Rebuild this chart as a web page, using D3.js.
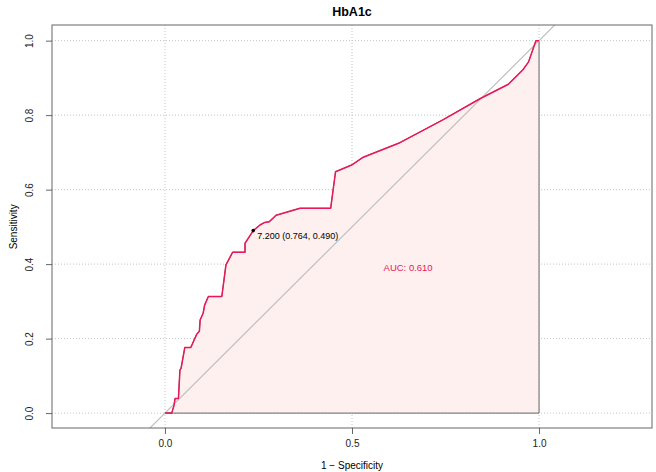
<!DOCTYPE html>
<html>
<head>
<meta charset="utf-8">
<script src="https://cdn.jsdelivr.net/npm/d3@7"></script>
<style>
  body { margin: 0; background: #fff; }
  svg { font-family: "Liberation Sans", Arial, sans-serif; }
</style>
</head>
<body>
<div id="chart"></div>
<script>
// ROC curve (1 - specificity, sensitivity)
var fpr  = [0, 0.018, 0.024, 0.027, 0.036, 0.040, 0.043, 0.053, 0.069, 0.085, 0.092, 0.094, 0.102, 0.106, 0.116, 0.152, 0.163, 0.181, 0.214, 0.214, 0.236, 0.254, 0.267, 0.279, 0.297, 0.361, 0.443, 0.456, 0.499, 0.530, 0.628, 0.744, 0.842, 0.918, 0.957, 0.972, 0.990, 0.992, 1.0];
var sens = [0, 0, 0.020, 0.039, 0.039, 0.116, 0.120, 0.176, 0.176, 0.212, 0.220, 0.250, 0.268, 0.290, 0.313, 0.313, 0.398, 0.432, 0.432, 0.456, 0.490, 0.505, 0.512, 0.514, 0.531, 0.550, 0.550, 0.648, 0.666, 0.687, 0.726, 0.788, 0.844, 0.883, 0.922, 0.943, 0.995, 1.0, 1.0];
var xTicks = [0, 0.5, 1];
var yTicks = [0, 0.2, 0.4, 0.6, 0.8, 1.0];
var best = { thr: 7.200, spec: 0.764, sens: 0.490 };
var aucValue = 0.610;

var W = 656, H = 472;
var margin = { top: 25, right: 4, bottom: 44, left: 52 };
var pw = W - margin.left - margin.right,
    ph = H - margin.top - margin.bottom;

var svg = d3.select("#chart").append("svg")
  .attr("width", W).attr("height", H);

var x = d3.scaleLinear().domain([-0.302, 1.302]).range([margin.left, margin.left + pw]);
var y = d3.scaleLinear().domain([-0.04, 1.042]).range([margin.top + ph, margin.top]);

svg.append("clipPath").attr("id", "clip")
  .append("rect")
  .attr("x", margin.left).attr("y", margin.top)
  .attr("width", pw).attr("height", ph);

var plot = svg.append("g").attr("clip-path", "url(#clip)");

// grid
plot.selectAll(".vgrid").data(xTicks).enter().append("line")
  .attr("x1", function(d) { return x(d); }).attr("x2", function(d) { return x(d); })
  .attr("y1", margin.top).attr("y2", margin.top + ph)
  .attr("stroke", "#c4c4c4").attr("stroke-dasharray", "1,2");
plot.selectAll(".hgrid").data(yTicks).enter().append("line")
  .attr("y1", function(d) { return y(d); }).attr("y2", function(d) { return y(d); })
  .attr("x1", margin.left).attr("x2", margin.left + pw)
  .attr("stroke", "#c4c4c4").attr("stroke-dasharray", "1,2");

// auc polygon
var pts = fpr.map(function(d, i) { return [d, sens[i]]; });
var poly = pts.concat([[1, 0]]);
plot.append("path")
  .attr("d", d3.line().x(function(d) { return x(d[0]); }).y(function(d) { return y(d[1]); })(poly) + "Z")
  .attr("fill", "#fdf0ef").attr("stroke", "#666").attr("stroke-width", 1);

// diagonal
plot.append("line")
  .attr("x1", x(-0.1)).attr("y1", y(-0.1))
  .attr("x2", x(1.1)).attr("y2", y(1.1))
  .attr("stroke", "#c0c0c0").attr("stroke-width", 1.2);

// roc curve
plot.append("path")
  .attr("d", d3.line().x(function(d) { return x(d[0]); }).y(function(d) { return y(d[1]); })(pts))
  .attr("fill", "none").attr("stroke", "#e8185a").attr("stroke-width", 1.5)
  .attr("stroke-linejoin", "round");

// best threshold
plot.append("circle")
  .attr("cx", x(1 - best.spec)).attr("cy", y(best.sens)).attr("r", 1.8)
  .attr("fill", "#000");
svg.append("text")
  .attr("x", x(1 - best.spec) + 4).attr("y", y(best.sens) + 8)
  .attr("font-size", "9px").attr("fill", "#000")
  .text(best.thr.toFixed(3) + " (" + best.spec.toFixed(3) + ", " + best.sens.toFixed(3) + ")");

// auc text
svg.append("text")
  .attr("x", x(0.65)).attr("y", y(0.39)).attr("dy", "0.35em")
  .attr("text-anchor", "middle").attr("font-size", "9.5px").attr("fill", "#e8185a")
  .text("AUC: " + aucValue.toFixed(3));

// box
svg.append("rect")
  .attr("x", margin.left).attr("y", margin.top)
  .attr("width", pw).attr("height", ph)
  .attr("fill", "none").attr("stroke", "#666").attr("stroke-width", 1);

// axes
var xAxis = svg.append("g")
  .attr("transform", "translate(0," + (margin.top + ph) + ")")
  .call(d3.axisBottom(x).tickValues(xTicks).tickFormat(d3.format(".1f")).tickSize(6).tickPadding(6));
xAxis.select(".domain").remove();
xAxis.selectAll("line").attr("stroke", "#666");
xAxis.selectAll("text").attr("font-size", "10px").attr("fill", "#222").attr("font-family", null);

var yAxis = svg.append("g")
  .attr("transform", "translate(" + margin.left + ",0)")
  .call(d3.axisLeft(y).tickValues(yTicks).tickFormat(d3.format(".1f")).tickSize(6));
yAxis.select(".domain").remove();
yAxis.selectAll("line").attr("stroke", "#666");
yAxis.selectAll("text")
  .attr("font-size", "10px").attr("fill", "#222").attr("font-family", null)
  .attr("text-anchor", "middle").attr("x", 0).attr("dy", 0)
  .attr("transform", "translate(-19,0) rotate(-90)");

// titles
svg.append("text")
  .attr("x", x(0.5)).attr("y", 16)
  .attr("text-anchor", "middle").attr("font-size", "12.5px").attr("font-weight", "bold")
  .text("HbA1c");
svg.append("text")
  .attr("x", x(0.5)).attr("y", 469)
  .attr("text-anchor", "middle").attr("font-size", "10px")
  .text("1 \u2212 Specificity");
svg.append("text")
  .attr("transform", "translate(17," + y(0.5) + ") rotate(-90)")
  .attr("text-anchor", "middle").attr("font-size", "10px")
  .text("Sensitivity");
</script>
</body>
</html>
